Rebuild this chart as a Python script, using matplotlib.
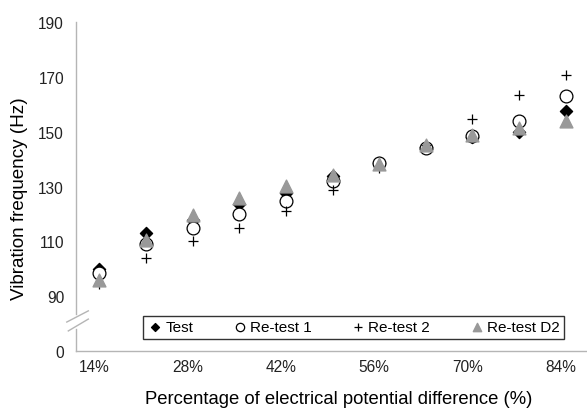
"""Vibration frequency vs percentage of electrical potential difference."""

import matplotlib
matplotlib.use("Agg")
import matplotlib.pyplot as plt
from matplotlib.transforms import offset_copy

# --- data ---
categories = ["14%", "21%", "28%", "35%", "42%", "49%", "56%", "63%", "70%", "77%", "84%"]
test = [100.0, 113.0, 117.8, 123.6, 127.6, 133.8, 138.5, 144.5, 148.0, 150.0, 157.4]
retest1 = [98.5, 109.0, 114.9, 120.0, 124.7, 132.0, 138.5, 144.0, 148.3, 154.0, 162.9]
retest2 = [94.5, 103.9, 110.1, 114.9, 121.1, 128.7, 136.8, 145.0, 154.7, 163.5, 170.8]
retest_d2 = [96.0, 110.5, 119.6, 125.8, 130.2, 134.2, 138.2, 145.0, 148.8, 151.3, 153.8]

y_ticks = [70, 90, 110, 130, 150, 170, 190]
y_tick_labels = ["0", "90", "110", "130", "150", "170", "190"]

plt.rcParams["font.family"] = ["Liberation Sans", "DejaVu Sans"]

W, H = 587, 410
fig = plt.figure(figsize=(W / 100, H / 100), dpi=100)
ax = fig.add_axes([76 / W, (H - 352) / H, (589 - 76) / W, (352 - 23) / H])

x = list(range(len(categories)))
ax.scatter(x, test, marker="D", s=38, color="black", label="Test", zorder=3)
ax.scatter(x, retest1, marker="o", s=85, facecolor="white", edgecolor="black",
           linewidth=0.9, label="Re-test 1", zorder=4)
ax.scatter(x, retest2, marker="+", s=62, color="black", linewidth=0.9,
           label="Re-test 2", zorder=5)
ax.scatter(x, retest_d2, marker="^", s=85, color="#999999", label="Re-test D2", zorder=6)

ax.set_xlim(-0.5, len(categories) - 0.5)
ax.set_ylim(70, 190)
ax.set_xticks(x[::2])
ax.set_xticklabels(categories[::2], fontsize=11.2)
ax.set_yticks(y_ticks)
ax.set_yticklabels(y_tick_labels, fontsize=11.2)
ax.tick_params(axis="both", length=0, colors="#222222")
ax.tick_params(axis="y", pad=8.6)
ax.tick_params(axis="x", pad=6)
# category labels sit a little left of the points in the original
for lbl in ax.get_xticklabels():
    lbl.set_transform(offset_copy(lbl.get_transform(), fig=fig, x=-5, units="dots"))

for side in ["top", "right", "left"]:
    ax.spines[side].set_visible(False)
ax.spines["bottom"].set_color("#b5b5b5")
ax.spines["bottom"].set_linewidth(1.0)

# broken left axis
line_kw = dict(transform=ax.transAxes, color="#b5b5b5", lw=1.0, clip_on=False)
ax.plot([0, 0], [0, 0.067], **line_kw)
ax.plot([0, 0], [0.112, 1], **line_kw)
ax.plot([-0.018, 0.024], [0.088, 0.122], **line_kw)
ax.plot([-0.015, 0.024], [0.061, 0.097], **line_kw)

ax.set_xlabel("Percentage of electrical potential difference (%)", fontsize=13.3)
ax.set_ylabel("Vibration frequency (Hz)", fontsize=13.6)
ax.xaxis.set_label_coords(0.512, -0.118)
ax.yaxis.set_label_coords(-0.094, 0.465)

leg = ax.legend(loc="lower left", bbox_to_anchor=(0.1306, 0.0365, 0.8207, 0.082),
                mode="expand", ncol=4, fontsize=11, frameon=True, fancybox=False,
                handletextpad=0.15, borderpad=0.3, handlelength=1.0,
                borderaxespad=0, scatterpoints=1, markerscale=0.65)
leg.get_frame().set_edgecolor("black")
leg.get_frame().set_linewidth(1.0)

fig.savefig("out.png", dpi=100)
